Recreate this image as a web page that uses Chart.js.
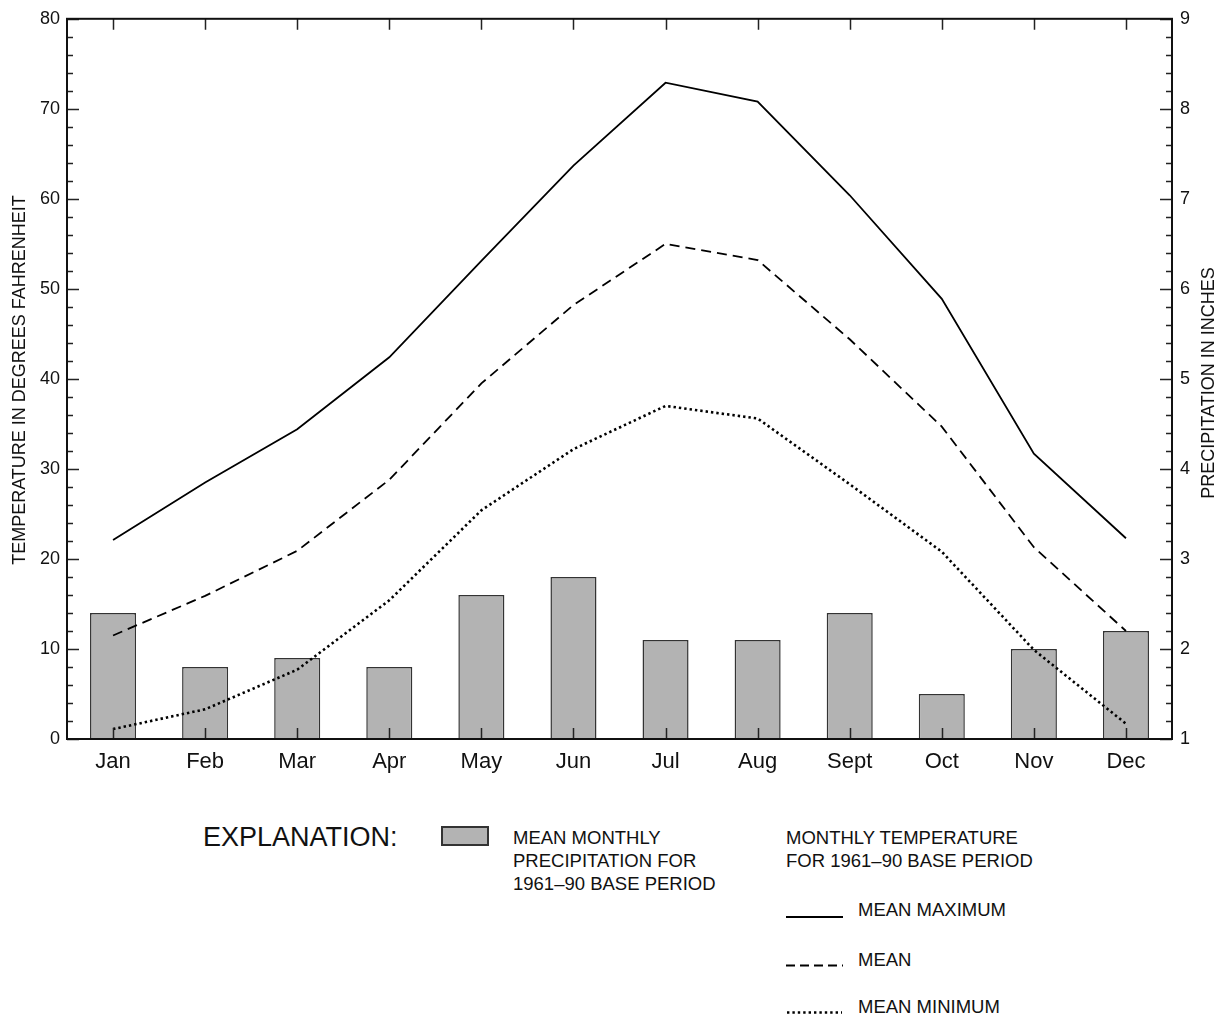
<!DOCTYPE html>
<html>
<head>
<meta charset="utf-8">
<script src="https://cdn.jsdelivr.net/npm/chart.js@4.4.1/dist/chart.umd.min.js"></script>
<style>
  body { margin: 0; background: #fff; font-family: "Liberation Sans", Arial, sans-serif; color: #111; }
  #wrap { position: relative; width: 1224px; height: 1017px; }
  canvas { position: absolute; left: 0; top: 0; }
  .t { position: absolute; white-space: nowrap; line-height: 1; }
  .axis-title { position: absolute; width: 440px; text-align: center; font-size: 18px; line-height: 18px; transform: rotate(-90deg); transform-origin: 50% 50%; }
  .leg { font-size: 18.5px; }
</style>
</head>
<body>
<div id="wrap">
  <canvas id="chart" width="1224" height="790"></canvas>

  <div class="axis-title" style="left:-201px; top:371px;">TEMPERATURE IN DEGREES FAHRENHEIT</div>
  <div class="axis-title" style="left:988px; top:374px;">PRECIPITATION IN INCHES</div>

  <div class="t" style="left:203px; top:824px; font-size:27px;">EXPLANATION:</div>
  <div style="position:absolute; left:441px; top:826px; width:44px; height:16px; background:#b3b3b3; border:2px solid #333;"></div>
  <div class="t leg" style="left:513px; top:829px;">MEAN MONTHLY</div>
  <div class="t leg" style="left:513px; top:852px;">PRECIPITATION FOR</div>
  <div class="t leg" style="left:513px; top:875px;">1961–90 BASE PERIOD</div>

  <div class="t leg" style="left:786px; top:829px;">MONTHLY TEMPERATURE</div>
  <div class="t leg" style="left:786px; top:852px;">FOR 1961–90 BASE PERIOD</div>

  <svg style="position:absolute; left:786px; top:905px;" width="60" height="110">
    <line x1="0" y1="12" x2="57" y2="12" stroke="#000" stroke-width="2"/>
    <line x1="0" y1="60.5" x2="57" y2="60.5" stroke="#000" stroke-width="2" stroke-dasharray="9,5"/>
    <line x1="1" y1="107.5" x2="56" y2="107.5" stroke="#000" stroke-width="2.6" stroke-dasharray="2.4,3"/>
  </svg>
  <div class="t leg" style="left:858px; top:901px;">MEAN MAXIMUM</div>
  <div class="t leg" style="left:858px; top:951px;">MEAN</div>
  <div class="t leg" style="left:858px; top:998px;">MEAN MINIMUM</div>
</div>

<script>
// months on the x axis
const months = ['Jan', 'Feb', 'Mar', 'Apr', 'May', 'Jun', 'Jul', 'Aug', 'Sept', 'Oct', 'Nov', 'Dec'];

// mean monthly precipitation, inches (right axis)
const precipitation = [2.4, 1.8, 1.9, 1.8, 2.6, 2.8, 2.1, 2.1, 2.4, 1.5, 2.0, 2.2];

// monthly temperature, degrees F (left axis)
const meanMaximum = [22.1, 28.5, 34.4, 42.4, 53.1, 63.7, 72.9, 70.8, 60.4, 48.9, 31.7, 22.3];
const meanTemp = [11.5, 15.9, 20.9, 28.8, 39.5, 48.2, 55.0, 53.2, 44.4, 34.7, 21.3, 12.0];
const meanMinimum = [1.1, 3.3, 7.7, 15.4, 25.4, 32.2, 37.0, 35.6, 28.3, 20.8, 9.9, 1.7];

// axis ranges
const tempRange = [0, 80];
const precipRange = [1, 9];

Chart.defaults.font.family = '"Liberation Sans", Arial, sans-serif';
Chart.defaults.color = '#111';

const isWhole = v => Math.abs(v - Math.round(v)) < 1e-6;

// inward tick marks + frame, using the chart's own scales
const frameTicks = {
  id: 'frameTicks',
  afterDatasetsDraw(chart) {
    const { ctx, chartArea: a, scales } = chart;
    ctx.save();
    ctx.strokeStyle = '#222';
    ctx.lineWidth = 1.5;
    ctx.beginPath();
    scales.y.ticks.forEach(t => {
      const py = Math.round(scales.y.getPixelForValue(t.value)) + 0.5;
      const len = t.value % 10 === 0 ? 12 : 6;
      ctx.moveTo(a.left, py);
      ctx.lineTo(a.left + len, py);
    });
    scales.y2.ticks.forEach(t => {
      const py = Math.round(scales.y2.getPixelForValue(t.value)) + 0.5;
      const len = isWhole(t.value) ? 12 : 6;
      ctx.moveTo(a.right, py);
      ctx.lineTo(a.right - len, py);
    });
    scales.x.ticks.forEach((t, i) => {
      const px = Math.round(scales.x.getPixelForTick(i)) + 0.5;
      ctx.moveTo(px, a.bottom);
      ctx.lineTo(px, a.bottom - 11);
      ctx.moveTo(px, a.top);
      ctx.lineTo(px, a.top + 11);
    });
    ctx.stroke();
    ctx.strokeStyle = '#111';
    ctx.lineWidth = 2;
    ctx.strokeRect(a.left, a.top, a.right - a.left, a.bottom - a.top);
    ctx.restore();
  }
};

new Chart(document.getElementById('chart'), {
  data: {
    labels: months,
    datasets: [
      {
        type: 'line',
        label: 'MEAN MAXIMUM',
        data: meanMaximum,
        yAxisID: 'y',
        borderColor: '#000',
        borderWidth: 1.8,
        pointRadius: 0,
        tension: 0,
        fill: false,
        order: 1
      },
      {
        type: 'line',
        label: 'MEAN',
        data: meanTemp,
        yAxisID: 'y',
        borderColor: '#000',
        borderWidth: 1.8,
        borderDash: [10, 6],
        pointRadius: 0,
        tension: 0,
        fill: false,
        order: 1
      },
      {
        type: 'line',
        label: 'MEAN MINIMUM',
        data: meanMinimum,
        yAxisID: 'y',
        borderColor: '#000',
        borderWidth: 2.6,
        borderDash: [2.4, 3],
        pointRadius: 0,
        tension: 0,
        fill: false,
        order: 1
      },
      {
        type: 'bar',
        label: 'MEAN MONTHLY PRECIPITATION',
        data: precipitation,
        yAxisID: 'y2',
        backgroundColor: '#b3b3b3',
        borderColor: '#333',
        borderWidth: 1.5,
        borderSkipped: 'bottom',
        categoryPercentage: 1,
        barPercentage: 0.5,
        order: 2
      }
    ]
  },
  options: {
    responsive: false,
    animation: false,
    devicePixelRatio: 1,
    layout: { padding: { top: 16, left: 0, right: 0, bottom: 0 } },
    plugins: {
      legend: { display: false },
      tooltip: { enabled: false }
    },
    scales: {
      x: {
        type: 'category',
        offset: true,
        grid: { display: false, drawTicks: false },
        border: { display: false },
        ticks: { font: { size: 22 }, padding: 10, color: '#111', maxRotation: 0 },
        afterFit: s => { s.height = 51; }
      },
      y: {
        position: 'left',
        min: tempRange[0],
        max: tempRange[1],
        grid: { display: false, drawTicks: false },
        border: { display: false },
        ticks: {
          stepSize: 2,
          autoSkip: false,
          padding: 7,
          font: { size: 18 },
          color: '#111',
          callback: v => (v % 10 === 0 ? v : '')
        },
        afterFit: s => { s.width = 67; }
      },
      y2: {
        position: 'right',
        min: precipRange[0],
        max: precipRange[1],
        grid: { display: false, drawTicks: false },
        border: { display: false },
        ticks: {
          stepSize: 0.2,
          autoSkip: false,
          padding: 8,
          font: { size: 18 },
          color: '#111',
          callback: v => (isWhole(v) ? Math.round(v) : '')
        },
        afterFit: s => { s.width = 52; }
      }
    }
  },
  plugins: [frameTicks]
});
</script>
</body>
</html>
